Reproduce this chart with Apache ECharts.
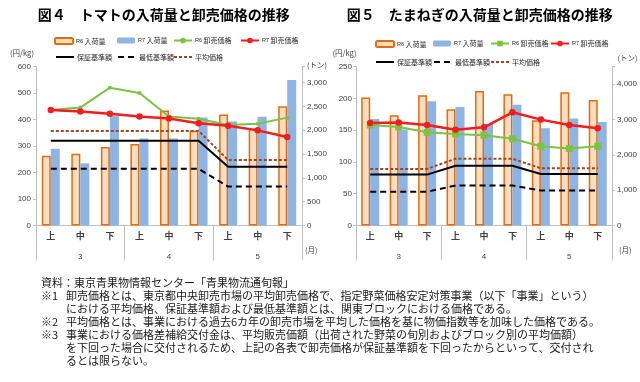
<!DOCTYPE html>
<html><head><meta charset="utf-8">
<script src="https://cdn.jsdelivr.net/npm/echarts@6/dist/echarts.min.js"></script>
<style>html,body{margin:0;padding:0;background:#fff}#c{width:640px;height:382px}</style>
</head><body><div id="c"></div>
<script>
// ---- data ----
const categories = ['上','中','下','上','中','下','上','中','下'];
const months = ['3','4','5'];

const tomatoR6Vol   = [1464, 1506, 1647, 1710, 2417, 1989, 2333, 2039, 2507];
const tomatoR7Vol   = [1611, 1305, 2303, 1829, 1829, 2270, 2186, 2283, 3059];
const tomatoR6Price = [436, 445, 520, 500, 411, 403, 379, 384, 407];
const tomatoR7Price = [436, 430, 422, 411, 404, 386, 376, 359, 334];
const tomatoGuarantee = [320, 320, 320, 320, 320, 320, 222, 222, 222];
const tomatoMinimum   = [214, 214, 214, 214, 214, 214, 147, 147, 147];
const tomatoAverage   = [357, 357, 357, 357, 357, 357, 247, 247, 247];

const onionR6Vol   = [3620, 3122, 3688, 3292, 3810, 3717, 2980, 3773, 3555];
const onionR7Vol   = [3017, 2714, 3518, 3357, 2875, 3414, 2753, 3025, 2932];
const onionR6Price = [158, 155, 146.5, 144, 142, 136.5, 124.5, 121, 124.5];
const onionR7Price = [161, 162, 158, 150.6, 154.4, 178, 166.5, 158, 152.8];
const onionGuarantee = [80, 80, 80, 94, 94, 94, 81, 81, 81];
const onionMinimum   = [53, 53, 53, 63, 63, 63, 55, 55, 55];
const onionAverage   = [89, 89, 89, 105, 105, 105, 90, 90, 90];

const leftTicks1 = [0, 600, 100];
const rightTicks1 = [0, 3340, 500];
const leftTicks2 = [0, 250, 50];
const rightTicks2 = [0, 4500, 1000];

const titles = ['図４　トマトの入荷量と卸売価格の推移', '図５　たまねぎの入荷量と卸売価格の推移'];
const seriesNames = ['R6 入荷量', 'R7 入荷量', 'R6 卸売価格', 'R7 卸売価格', '保証基準額', '最低基準額', '平均価格'];
const notes = [
  ['資料：東京青果物情報センター「青果物流通旬報」', ''],
  ['※1', '卸売価格とは、東京都中央卸売市場の平均卸売価格で、指定野菜価格安定対策事業（以下「事業」という）'],
  ['', 'における平均価格、保証基準額および最低基準額とは、関東ブロックにおける価格である。'],
  ['※2', '平均価格とは、事業における過去6カ年の卸売市場を平均した価格を基に物価指数等を加味した価格である。'],
  ['※3', '事業における価格差補給交付金は、平均販売価額（出荷された野菜の旬別およびブロック別の平均価額）'],
  ['', 'を下回った場合に交付されるため、上記の各表で卸売価格が保証基準額を下回ったからといって、交付され'],
  ['', 'るとは限らない。']
];

// ---- styles ----
const CJK = '"Noto Sans CJK JP", "Noto Sans", sans-serif';
const NUM = '"Liberation Sans Narrow", "Liberation Sans", Arial, sans-serif';
const AX = '#BFBFBF';
const TXT = '#404040';
const C_R6BAR = '#FADDC3', C_R6BORDER = '#E46C0A', C_R7BAR = '#8EB4E3';
const C_GREEN = '#7DC242', C_RED = '#F01E1E', C_BROWN = '#A0461E';

const chart = echarts.init(document.getElementById('c'));

function xAxes(gi) {
  return [
    { type: 'category', gridIndex: gi, data: categories, position: 'bottom',
      axisLine: { show: true, lineStyle: { color: AX, width: 1 } },
      axisTick: { show: false },
      axisLabel: { margin: 6, fontSize: 9, color: TXT, fontFamily: CJK, fontWeight: 'bold' } },
    { type: 'category', gridIndex: gi, data: months, position: 'bottom',
      axisLine: { show: false },
      axisTick: { show: true, length: 35, lineStyle: { color: AX, width: 1 } },
      axisLabel: { margin: 27, fontSize: 8, color: TXT, fontFamily: NUM } }
  ];
}
function yAxis(gi, pos, t, margin) {
  return { type: 'value', gridIndex: gi, position: pos, min: t[0], max: t[1], interval: t[2],
    axisLine: { show: true, lineStyle: { color: AX, width: 1 } },
    axisTick: { show: true, length: 3, lineStyle: { color: AX } },
    splitLine: { show: false },
    axisLabel: { margin: margin, fontSize: 8, color: TXT, fontFamily: NUM,
      formatter: v => (v % t[2] === 0 ? v.toLocaleString('en-US') : '') } };
}

function seriesFor(k, xi, yl, yr, d, sfx) {
  const n = seriesNames.map(s => s + sfx);
  return [
    { type: 'bar', name: n[0], xAxisIndex: xi, yAxisIndex: yr, data: d.r6v, barWidth: 9, barGap: '0%',
      itemStyle: { color: C_R6BAR, borderColor: C_R6BORDER, borderWidth: 1.5 } },
    { type: 'bar', name: n[1], xAxisIndex: xi, yAxisIndex: yr, data: d.r7v, barWidth: 9, barGap: '0%',
      itemStyle: { color: C_R7BAR } },
    { type: 'line', name: n[4], xAxisIndex: xi, yAxisIndex: yl, data: d.g, symbol: 'none',
      lineStyle: { color: '#000', width: 2 }, itemStyle: { color: '#000' } },
    { type: 'line', name: n[5], xAxisIndex: xi, yAxisIndex: yl, data: d.m, symbol: 'none',
      lineStyle: { color: '#000', width: 2, type: [6, 4] }, itemStyle: { color: '#000' } },
    { type: 'line', name: n[6], xAxisIndex: xi, yAxisIndex: yl, data: d.a, symbol: 'none',
      lineStyle: { color: C_BROWN, width: 2, type: [3, 2] }, itemStyle: { color: C_BROWN } },
    { type: 'line', name: n[2], xAxisIndex: xi, yAxisIndex: yl, data: d.r6p,
      symbol: k === 0 ? 'circle' : 'rect', symbolSize: k === 0 ? 4 : 7,
      lineStyle: { color: C_GREEN, width: 2 }, itemStyle: { color: C_GREEN } },
    { type: 'line', name: n[3], xAxisIndex: xi, yAxisIndex: yl, data: d.r7p,
      symbol: 'circle', symbolSize: 6.5,
      lineStyle: { color: C_RED, width: 2.5 }, itemStyle: { color: C_RED } }
  ];
}

// legend layout
const legendPos = [
  { row1: [54, 117, 173, 240], row2: [55, 117, 173], y1: 41, y2: 57.5 },
  { row1: [375, 433, 490, 550], row2: [375, 433, 490], y1: 44, y2: 62.5 }
];
const legends = [];
[0, 1].forEach(k => {
  const sfx = k === 0 ? '' : ' ';
  const P = legendPos[k];
  const order = [[0, P.row1[0], P.y1], [1, P.row1[1], P.y1], [2, P.row1[2], P.y1], [3, P.row1[3], P.y1],
                 [4, P.row2[0], P.y2], [5, P.row2[1], P.y2], [6, P.row2[2], P.y2]];
  order.forEach(([i, x, y]) => {
    const lg = {
      data: [seriesNames[i] + sfx], left: x, top: y - 4, padding: 0, itemGap: 0,
      itemWidth: 18, itemHeight: i < 2 ? 6 : 7, selectedMode: false,
      textStyle: { fontSize: 7, color: '#262626', fontFamily: CJK, padding: [0, 0, 0, -2],
        rich: { s: { fontSize: 5.5, fontFamily: NUM, color: '#262626' } } },
      formatter: nm => { const b = nm.trim(); return /^R\d/.test(b) ? '{s|' + b.slice(0, 2) + '}' + b.slice(2) : b; }
    };
    if (i >= 4) lg.itemStyle = { opacity: 0, borderWidth: 0 };
    legends.push(lg);
  });
});

const graphics = [];
graphics.push({ type: 'text', x: 37.7, y: 15, style: { text: titles[0], font: 'bold 14px ' + CJK, fill: '#000', verticalAlign: 'middle', textVerticalAlign: 'middle' } });
graphics.push({ type: 'text', x: 346.7, y: 15, style: { text: titles[1], font: 'bold 14px ' + CJK, fill: '#000', verticalAlign: 'middle', textVerticalAlign: 'middle' } });
const smallTxt = (text, x, y, align) => ({ type: 'text', x, y, style: { text, font: '7.5px ' + CJK, fill: TXT, align: align || 'left', textAlign: align || 'left', verticalAlign: 'middle', textVerticalAlign: 'middle' } });
graphics.push(smallTxt('(円/kg)', 10, 53.3));
graphics.push(smallTxt('(円/kg)', 332.5, 53.3));
graphics.push(smallTxt('(トン)', 307, 65));
graphics.push(smallTxt('(トン)', 617.5, 58.5));
graphics.push(smallTxt('(月)', 305, 250.5));
graphics.push(smallTxt('(月)', 619, 250.5));
const noteY0 = 283, noteDY = 13;
notes.forEach((ln, i) => {
  const y = noteY0 + i * noteDY;
  const style = (t, x) => ({ type: 'text', x, y, style: { text: t, font: '11px ' + CJK, fill: '#1a1a1a', verticalAlign: 'middle', textVerticalAlign: 'middle' } });
  if (i === 0) graphics.push(style(ln[0], 41));
  else {
    if (ln[0]) graphics.push(style(ln[0], 41));
    graphics.push(style(ln[1], 66));
  }
});

chart.setOption({
  animation: false,
  backgroundColor: '#fff',
  grid: [
    { left: 36, right: 338, top: 66.5, bottom: 156.5 },
    { left: 356, right: 27.5, top: 66.5, bottom: 156.5 }
  ],
  xAxis: [...xAxes(0), ...xAxes(1)],
  yAxis: [yAxis(0, 'left', leftTicks1, 5), yAxis(0, 'right', rightTicks1, 5),
          yAxis(1, 'left', leftTicks2, 4), yAxis(1, 'right', rightTicks2, 5)],
  legend: legends,
  graphic: graphics,
  series: [
    ...seriesFor(0, 0, 0, 1, { r6v: tomatoR6Vol, r7v: tomatoR7Vol, r6p: tomatoR6Price, r7p: tomatoR7Price, g: tomatoGuarantee, m: tomatoMinimum, a: tomatoAverage }, ''),
    ...seriesFor(1, 2, 2, 3, { r6v: onionR6Vol, r7v: onionR7Vol, r6p: onionR6Price, r7p: onionR7Price, g: onionGuarantee, m: onionMinimum, a: onionAverage }, ' ')
  ]
});
</script></body></html>
